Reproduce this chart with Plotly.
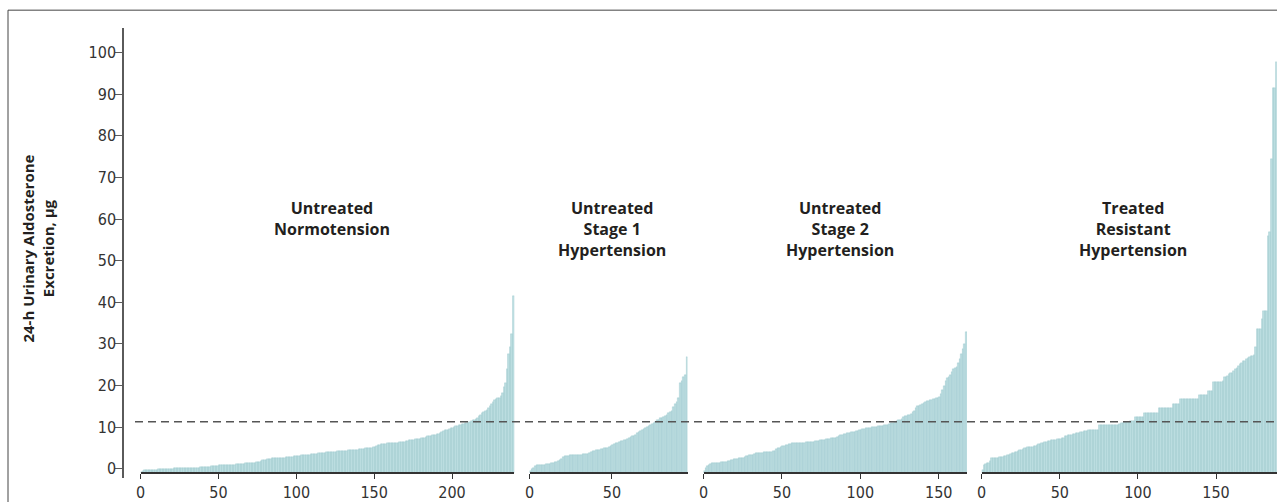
import plotly.graph_objects as go

# ---------------- data (sorted 24-h urinary aldosterone, µg) ----------------
group_labels = [
    "Untreated<br>Normotension",
    "Untreated<br>Stage 1<br>Hypertension",
    "Untreated<br>Stage 2<br>Hypertension",
    "Treated<br>Resistant<br>Hypertension",
]

normotension = [
    -0.8, -0.5, -0.4, -0.3, -0.3, -0.3, -0.2, -0.2, -0.2, -0.2,
    -0.2, -0.1, -0.1, -0.1, -0.1, -0.1, 0.0, 0.0, 0.0, 0.0,
    0.0, 0.1, 0.1, 0.1, 0.1, 0.1, 0.1, 0.2, 0.2, 0.2,
    0.2, 0.2, 0.2, 0.3, 0.3, 0.3, 0.3, 0.3, 0.4, 0.4,
    0.4, 0.5, 0.5, 0.5, 0.5, 0.6, 0.6, 0.6, 0.7, 0.7,
    0.8, 0.8, 0.8, 0.8, 0.9, 0.9, 0.9, 1.0, 1.0, 1.0,
    1.0, 1.1, 1.1, 1.1, 1.2, 1.2, 1.2, 1.3, 1.3, 1.3,
    1.4, 1.4, 1.5, 1.5, 1.6, 1.6, 1.7, 1.8, 2.0, 2.1,
    2.2, 2.3, 2.4, 2.4, 2.5, 2.5, 2.5, 2.6, 2.6, 2.6,
    2.7, 2.7, 2.7, 2.8, 2.8, 2.8, 2.9, 2.9, 3.0, 3.0,
    3.0, 3.1, 3.1, 3.2, 3.2, 3.3, 3.3, 3.4, 3.4, 3.5,
    3.5, 3.5, 3.6, 3.6, 3.7, 3.7, 3.7, 3.8, 3.9, 4.0,
    4.0, 4.0, 4.1, 4.1, 4.1, 4.1, 4.2, 4.2, 4.2, 4.2,
    4.3, 4.3, 4.3, 4.4, 4.4, 4.4, 4.5, 4.5, 4.6, 4.6,
    4.7, 4.7, 4.8, 4.8, 4.9, 4.9, 5.0, 5.0, 5.1, 5.2,
    5.3, 5.4, 5.6, 5.7, 5.9, 6.0, 6.0, 6.0, 6.1, 6.1,
    6.1, 6.2, 6.2, 6.2, 6.3, 6.3, 6.4, 6.4, 6.5, 6.5,
    6.6, 6.7, 6.8, 6.9, 7.0, 7.0, 7.1, 7.1, 7.2, 7.2,
    7.3, 7.3, 7.4, 7.6, 7.8, 7.8, 7.9, 8.0, 8.1, 8.2,
    8.3, 8.4, 8.6, 8.8, 9.0, 9.2, 9.3, 9.4, 9.5, 9.7,
    9.8, 10.0, 10.2, 10.3, 10.4, 10.6, 10.7, 10.8, 10.9, 11.0,
    11.1, 11.3, 11.5, 11.6, 11.8, 12.0, 12.3, 12.6, 13.0, 13.4,
    13.6, 13.8, 14.1, 14.5, 15.0, 15.6, 16.1, 16.5, 16.7, 16.9,
    17.1, 17.5, 18.1, 19.7, 20.5, 24.0, 27.6, 29.2, 32.4, 41.5,
]

stage1 = [
    -0.6, 0.0, 0.3, 0.6, 0.8, 0.9, 0.9, 1.0, 1.0, 1.0,
    1.1, 1.1, 1.2, 1.3, 1.5, 1.6, 1.7, 1.9, 2.1, 2.3,
    2.9, 3.0, 3.1, 3.1, 3.2, 3.2, 3.3, 3.3, 3.3, 3.4,
    3.4, 3.4, 3.5, 3.5, 3.6, 3.6, 3.7, 4.0, 4.2, 4.3,
    4.4, 4.5, 4.6, 4.7, 4.8, 4.9, 5.0, 5.1, 5.3, 5.5,
    5.7, 5.9, 6.1, 6.3, 6.5, 6.6, 6.7, 6.8, 7.0, 7.2,
    7.4, 7.6, 7.8, 7.9, 8.2, 8.5, 8.8, 9.0, 9.2, 9.5,
    9.8, 10.1, 10.3, 10.6, 10.8, 11.0, 11.3, 11.6, 11.8, 12.1,
    12.3, 12.5, 12.8, 13.0, 13.3, 13.6, 14.0, 14.9, 15.5, 16.1,
    17.0, 20.5, 21.2, 22.1, 22.6, 26.8,
]

stage2 = [
    -0.5, 0.2, 0.6, 0.9, 1.2, 1.3, 1.3, 1.4, 1.4, 1.5,
    1.5, 1.6, 1.6, 1.7, 1.7, 1.8, 1.9, 2.1, 2.2, 2.3,
    2.3, 2.4, 2.5, 2.5, 2.6, 2.6, 2.8, 3.0, 3.1, 3.2,
    3.3, 3.3, 3.5, 3.7, 3.8, 3.8, 3.9, 3.9, 4.0, 4.0,
    4.0, 4.1, 4.1, 4.1, 4.2, 4.2, 4.7, 5.0, 5.1, 5.3,
    5.4, 5.5, 5.6, 5.8, 6.0, 6.0, 6.1, 6.1, 6.1, 6.2,
    6.2, 6.2, 6.3, 6.3, 6.3, 6.4, 6.4, 6.4, 6.5, 6.5,
    6.5, 6.6, 6.6, 6.7, 6.8, 6.9, 7.0, 7.0, 7.1, 7.2,
    7.2, 7.3, 7.3, 7.4, 7.5, 7.6, 7.8, 8.0, 8.2, 8.3,
    8.4, 8.5, 8.6, 8.7, 8.8, 8.8, 8.9, 9.0, 9.1, 9.2,
    9.4, 9.5, 9.6, 9.7, 9.8, 9.9, 9.9, 10.0, 10.0, 10.1,
    10.1, 10.2, 10.2, 10.3, 10.3, 10.4, 10.5, 10.6, 10.7, 10.9,
    11.0, 11.1, 11.2, 11.4, 11.6, 11.8, 12.0, 12.5, 12.7, 12.8,
    12.9, 13.0, 13.2, 13.6, 14.0, 14.5, 15.0, 15.2, 15.4, 15.6,
    15.8, 16.0, 16.2, 16.4, 16.5, 16.6, 16.7, 16.8, 16.9, 17.1,
    17.3, 17.9, 19.0, 19.8, 21.0, 21.7, 22.0, 22.5, 23.3, 24.0,
    24.2, 24.5, 25.5, 26.4, 27.5, 28.8, 30.0, 32.8,
]

resistant = [
    -0.2, 1.0, 1.2, 1.3, 1.4, 1.8, 2.5, 2.6, 2.6, 2.7,
    2.7, 2.8, 2.8, 2.9, 3.0, 3.0, 3.2, 3.4, 3.6, 3.8,
    3.9, 4.0, 4.1, 4.3, 4.4, 4.6, 4.8, 5.0, 5.1, 5.2,
    5.2, 5.3, 5.3, 5.4, 5.5, 5.7, 5.9, 6.0, 6.2, 6.3,
    6.4, 6.5, 6.6, 6.7, 6.8, 6.9, 7.0, 7.0, 7.1, 7.1,
    7.2, 7.3, 7.5, 7.8, 7.9, 8.0, 8.1, 8.2, 8.3, 8.4,
    8.5, 8.6, 8.7, 8.8, 8.9, 9.0, 9.0, 9.1, 9.2, 9.3,
    9.4, 9.4, 9.4, 9.4, 9.4, 10.4, 10.4, 10.4, 10.4, 10.4,
    10.4, 10.4, 10.4, 10.4, 10.4, 10.4, 10.4, 10.6, 10.8, 11.0,
    11.1, 11.2, 11.2, 11.3, 11.3, 11.4, 11.4, 11.4, 12.5, 12.5,
    12.5, 12.5, 12.5, 12.5, 13.5, 13.5, 13.5, 13.5, 13.5, 13.5,
    13.5, 13.5, 13.5, 14.5, 14.5, 14.5, 14.5, 14.5, 14.5, 14.5,
    14.5, 14.5, 15.6, 15.6, 15.6, 15.6, 15.6, 16.7, 16.7, 16.7,
    16.7, 16.7, 16.7, 16.7, 16.7, 16.7, 16.7, 16.7, 16.7, 17.7,
    17.7, 17.7, 17.7, 17.7, 17.7, 18.7, 18.7, 18.7, 20.9, 20.9,
    20.9, 20.9, 20.9, 20.9, 21.0, 22.0, 22.0, 22.3, 22.7, 23.0,
    23.0, 23.5, 24.0, 24.3, 24.7, 25.2, 25.5, 26.0, 26.0, 26.3,
    26.6, 26.9, 27.2, 27.2, 27.3, 29.2, 33.6, 33.6, 33.6, 36.0,
    37.9, 38.0, 38.0, 55.8, 56.8, 74.5, 91.5, 91.5, 97.8,
]

series = [normotension, stage1, stage2, resistant]
x_tick_values = [
    [0, 50, 100, 150, 200],
    [0, 50],
    [0, 50, 100, 150],
    [0, 50, 100, 150],
]
y_tick_values = [0, 10, 20, 30, 40, 50, 60, 70, 80, 90, 100]
threshold = 11.3
y_title = "24-h Urinary Aldosterone<br>Excretion, µg"

# ---------------- layout geometry (pixels) ----------------
W, H = 1277, 502
ML, MR, MT, MB = 123, 0, 28, 20
PW, PH = W - ML - MR, H - MT - MB

def px_x(p):
    return (p - ML) / PW

def px_y(p):
    return (H - MB - p) / PH

# panel pixel extents [left, right] and x-range maxima
panel_px = [(140.7, 514.3), (529.5, 687.7), (703.5, 967.0), (981.7, 1277.0)]
panel_max = [240, 96, 168, 189.05]
title_x = [122.9, 50.1, 87.0, 96.9]
title_y = [60.1, 57.6, 57.6, 57.6]

Y_MIN, Y_MAX = -2.214, 105.88
BASE = -1.0
axis_pos = px_y(477)

tick_font = dict(family="Liberation Sans Narrow, Arial Narrow, DejaVu Sans Condensed, sans-serif",
                 size=16, color="#333333")
bold_font = "Open Sans, Liberation Sans, Arial, sans-serif"

fig = go.Figure()
for k, vals in enumerate(series):
    ax = "x" if k == 0 else f"x{k + 1}"
    fig.add_trace(go.Bar(
        x=[i + 0.5 for i in range(len(vals))],
        y=[v - BASE for v in vals],
        base=BASE,
        xaxis=ax, yaxis="y",
        width=1.0,
        marker=dict(color="#bcdde0", line=dict(color="#8fc2c7", width=0.35)),
        showlegend=False,
        hoverinfo="skip",
    ))

layout = dict(
    width=W, height=H,
    margin=dict(l=ML, r=MR, t=MT, b=MB),
    paper_bgcolor="white", plot_bgcolor="rgba(0,0,0,0)",
    bargap=0,
    showlegend=False,
    yaxis=dict(
        domain=[0, 1], range=[Y_MIN, Y_MAX], anchor="free", position=0,
        tickvals=y_tick_values, ticks="outside", ticklen=7, tickwidth=1.3,
        tickcolor="#5a5a5a", showline=True, linecolor="#5a5a5a", linewidth=1.5,
        showgrid=False, zeroline=False, tickfont=tick_font, ticklabelstandoff=-4,
    ),
)
for k in range(4):
    name = "xaxis" if k == 0 else f"xaxis{k + 1}"
    l, r = panel_px[k]
    layout[name] = dict(
        domain=[px_x(l), min(1.0, px_x(r))], range=[0, panel_max[k]],
        anchor="free", position=axis_pos,
        tickvals=x_tick_values[k], ticks="outside", ticklen=5, tickwidth=1.3,
        tickcolor="#333333", showline=True, linecolor="#333333", linewidth=1.6,
        showgrid=False, zeroline=False, tickfont=tick_font,
    )
fig.update_layout(**layout)

# panel titles
for k, label in enumerate(group_labels):
    fig.add_annotation(
        text="<b>" + label + "</b>", xref="x" if k == 0 else f"x{k + 1}", yref="y",
        x=title_x[k], y=title_y[k], showarrow=False, xanchor="center", yanchor="middle",
        font=dict(family=bold_font, size=16, color="#231f20"), align="center",
    )

# y-axis title
fig.add_annotation(
    text="<b>" + y_title + "</b>", xref="paper", yref="paper",
    x=px_x(38.5), y=px_y(250), textangle=-90, showarrow=False,
    xanchor="center", yanchor="middle", align="center",
    font=dict(family=bold_font, size=15, color="#231f20"),
)

# reference threshold line
fig.add_shape(type="line", xref="paper", yref="y", x0=px_x(135), x1=1.0,
              y0=threshold, y1=threshold,
              line=dict(color="#555555", width=1.6, dash="8px,5px"))

# outer frame
fig.add_shape(type="rect", xref="paper", yref="paper",
              x0=px_x(8), x1=px_x(1300), y0=px_y(10), y1=px_y(530),
              line=dict(color="#444444", width=1), fillcolor="rgba(0,0,0,0)")

fig.write_html(
    "out.html",
    config={"displayModeBar": False},
    post_script="document.body.style.margin='0';document.body.style.overflow='hidden';",
)
